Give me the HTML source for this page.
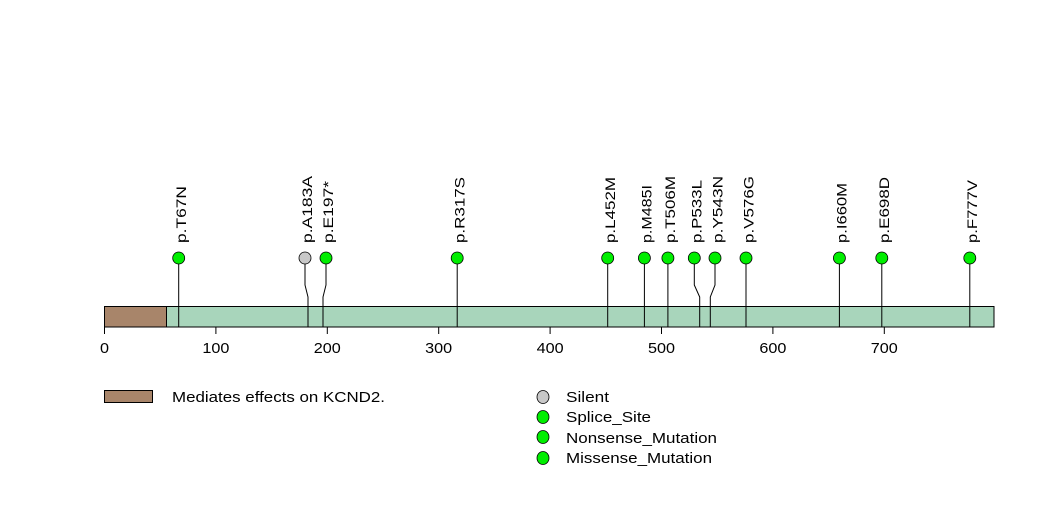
<!DOCTYPE html>
<html><head><meta charset="utf-8"><style>body{margin:0;background:#fff}svg{display:block}text{font-family:"Liberation Sans",sans-serif}</style></head>
<body>
<svg width="1047" height="524" viewBox="0 0 1047 524" xmlns="http://www.w3.org/2000/svg">
<rect x="0" y="0" width="1047" height="524" fill="#fff"/>
<rect x="104.5" y="306.5" width="889.5" height="20.5" fill="#a8d5bb" stroke="#000" stroke-width="1"/>
<rect x="104.5" y="306.5" width="62" height="20.5" fill="#a8856a" stroke="#000" stroke-width="1"/>
<g stroke="#000" stroke-width="1" fill="none">
<path d="M178.7 258V327"/>
<path d="M305 258V285L308 297V327"/>
<path d="M326 258V285L323 297V327"/>
<path d="M457.2 258V327"/>
<path d="M607.7 258V327"/>
<path d="M644.4 258V327"/>
<path d="M667.9 258V327"/>
<path d="M694.3 258V285L699.7 297V327"/>
<path d="M715 258V285L710.3 297V327"/>
<path d="M746 258V327"/>
<path d="M839.4 258V327"/>
<path d="M881.8 258V327"/>
<path d="M969.8 258V327"/>
<path d="M104.5 327V334M215.9 327V334M327.3 327V334M438.7 327V334M550.1 327V334M661.5 327V334M772.9 327V334M884.3 327V334"/>
</g>
<g stroke="#000" stroke-width="0.8">
<circle cx="178.7" cy="258" r="6" fill="#00ee00"/>
<circle cx="305" cy="258" r="6" fill="#c8c8c8"/>
<circle cx="326" cy="258" r="6" fill="#00ee00"/>
<circle cx="457.2" cy="258" r="6" fill="#00ee00"/>
<circle cx="607.7" cy="258" r="6" fill="#00ee00"/>
<circle cx="644.4" cy="258" r="6" fill="#00ee00"/>
<circle cx="667.9" cy="258" r="6" fill="#00ee00"/>
<circle cx="694.3" cy="258" r="6" fill="#00ee00"/>
<circle cx="715" cy="258" r="6" fill="#00ee00"/>
<circle cx="746" cy="258" r="6" fill="#00ee00"/>
<circle cx="839.4" cy="258" r="6" fill="#00ee00"/>
<circle cx="881.8" cy="258" r="6" fill="#00ee00"/>
<circle cx="969.8" cy="258" r="6" fill="#00ee00"/>
</g>
<g font-size="14" fill="#000">
<text transform="translate(186,243) rotate(-90)" textLength="57" lengthAdjust="spacingAndGlyphs">p.T67N</text>
<text transform="translate(312,243) rotate(-90)" textLength="67" lengthAdjust="spacingAndGlyphs">p.A183A</text>
<text transform="translate(333,243) rotate(-90)" textLength="62" lengthAdjust="spacingAndGlyphs">p.E197*</text>
<text transform="translate(464.5,243) rotate(-90)" textLength="66" lengthAdjust="spacingAndGlyphs">p.R317S</text>
<text transform="translate(615,243) rotate(-90)" textLength="66" lengthAdjust="spacingAndGlyphs">p.L452M</text>
<text transform="translate(651.7,243) rotate(-90)" textLength="58" lengthAdjust="spacingAndGlyphs">p.M485I</text>
<text transform="translate(675.2,243) rotate(-90)" textLength="67" lengthAdjust="spacingAndGlyphs">p.T506M</text>
<text transform="translate(701.6,243) rotate(-90)" textLength="63" lengthAdjust="spacingAndGlyphs">p.P533L</text>
<text transform="translate(722.3,243) rotate(-90)" textLength="67" lengthAdjust="spacingAndGlyphs">p.Y543N</text>
<text transform="translate(753.3,243) rotate(-90)" textLength="67" lengthAdjust="spacingAndGlyphs">p.V576G</text>
<text transform="translate(846.7,243) rotate(-90)" textLength="60" lengthAdjust="spacingAndGlyphs">p.I660M</text>
<text transform="translate(889.1,243) rotate(-90)" textLength="66" lengthAdjust="spacingAndGlyphs">p.E698D</text>
<text transform="translate(977.1,243) rotate(-90)" textLength="63" lengthAdjust="spacingAndGlyphs">p.F777V</text>
</g>
<g font-size="15" fill="#000">
<text x="100" y="353" textLength="9" lengthAdjust="spacingAndGlyphs">0</text>
<text x="202.4" y="353" textLength="27" lengthAdjust="spacingAndGlyphs">100</text>
<text x="313.8" y="353" textLength="27" lengthAdjust="spacingAndGlyphs">200</text>
<text x="425.2" y="353" textLength="27" lengthAdjust="spacingAndGlyphs">300</text>
<text x="536.6" y="353" textLength="27" lengthAdjust="spacingAndGlyphs">400</text>
<text x="648" y="353" textLength="27" lengthAdjust="spacingAndGlyphs">500</text>
<text x="759.4" y="353" textLength="27" lengthAdjust="spacingAndGlyphs">600</text>
<text x="870.8" y="353" textLength="27" lengthAdjust="spacingAndGlyphs">700</text>
</g>
<rect x="104.5" y="390.5" width="48" height="12" fill="#a8856a" stroke="#000" stroke-width="1"/>
<text x="172" y="402" font-size="15" textLength="213" lengthAdjust="spacingAndGlyphs">Mediates effects on KCND2.</text>
<g stroke="#000" stroke-width="0.8">
<ellipse cx="543" cy="397" rx="6" ry="6.5" fill="#c8c8c8"/>
<ellipse cx="543" cy="417" rx="6" ry="6.5" fill="#00ee00"/>
<ellipse cx="543" cy="437" rx="6" ry="6.5" fill="#00ee00"/>
<ellipse cx="543" cy="458" rx="6" ry="6.5" fill="#00ee00"/>
</g>
<g font-size="15" fill="#000">
<text x="566" y="402" textLength="43" lengthAdjust="spacingAndGlyphs">Silent</text>
<text x="566" y="422" textLength="85" lengthAdjust="spacingAndGlyphs">Splice_Site</text>
<text x="566" y="443" textLength="151" lengthAdjust="spacingAndGlyphs">Nonsense_Mutation</text>
<text x="566" y="463" textLength="146" lengthAdjust="spacingAndGlyphs">Missense_Mutation</text>
</g>
</svg>
</body></html>
